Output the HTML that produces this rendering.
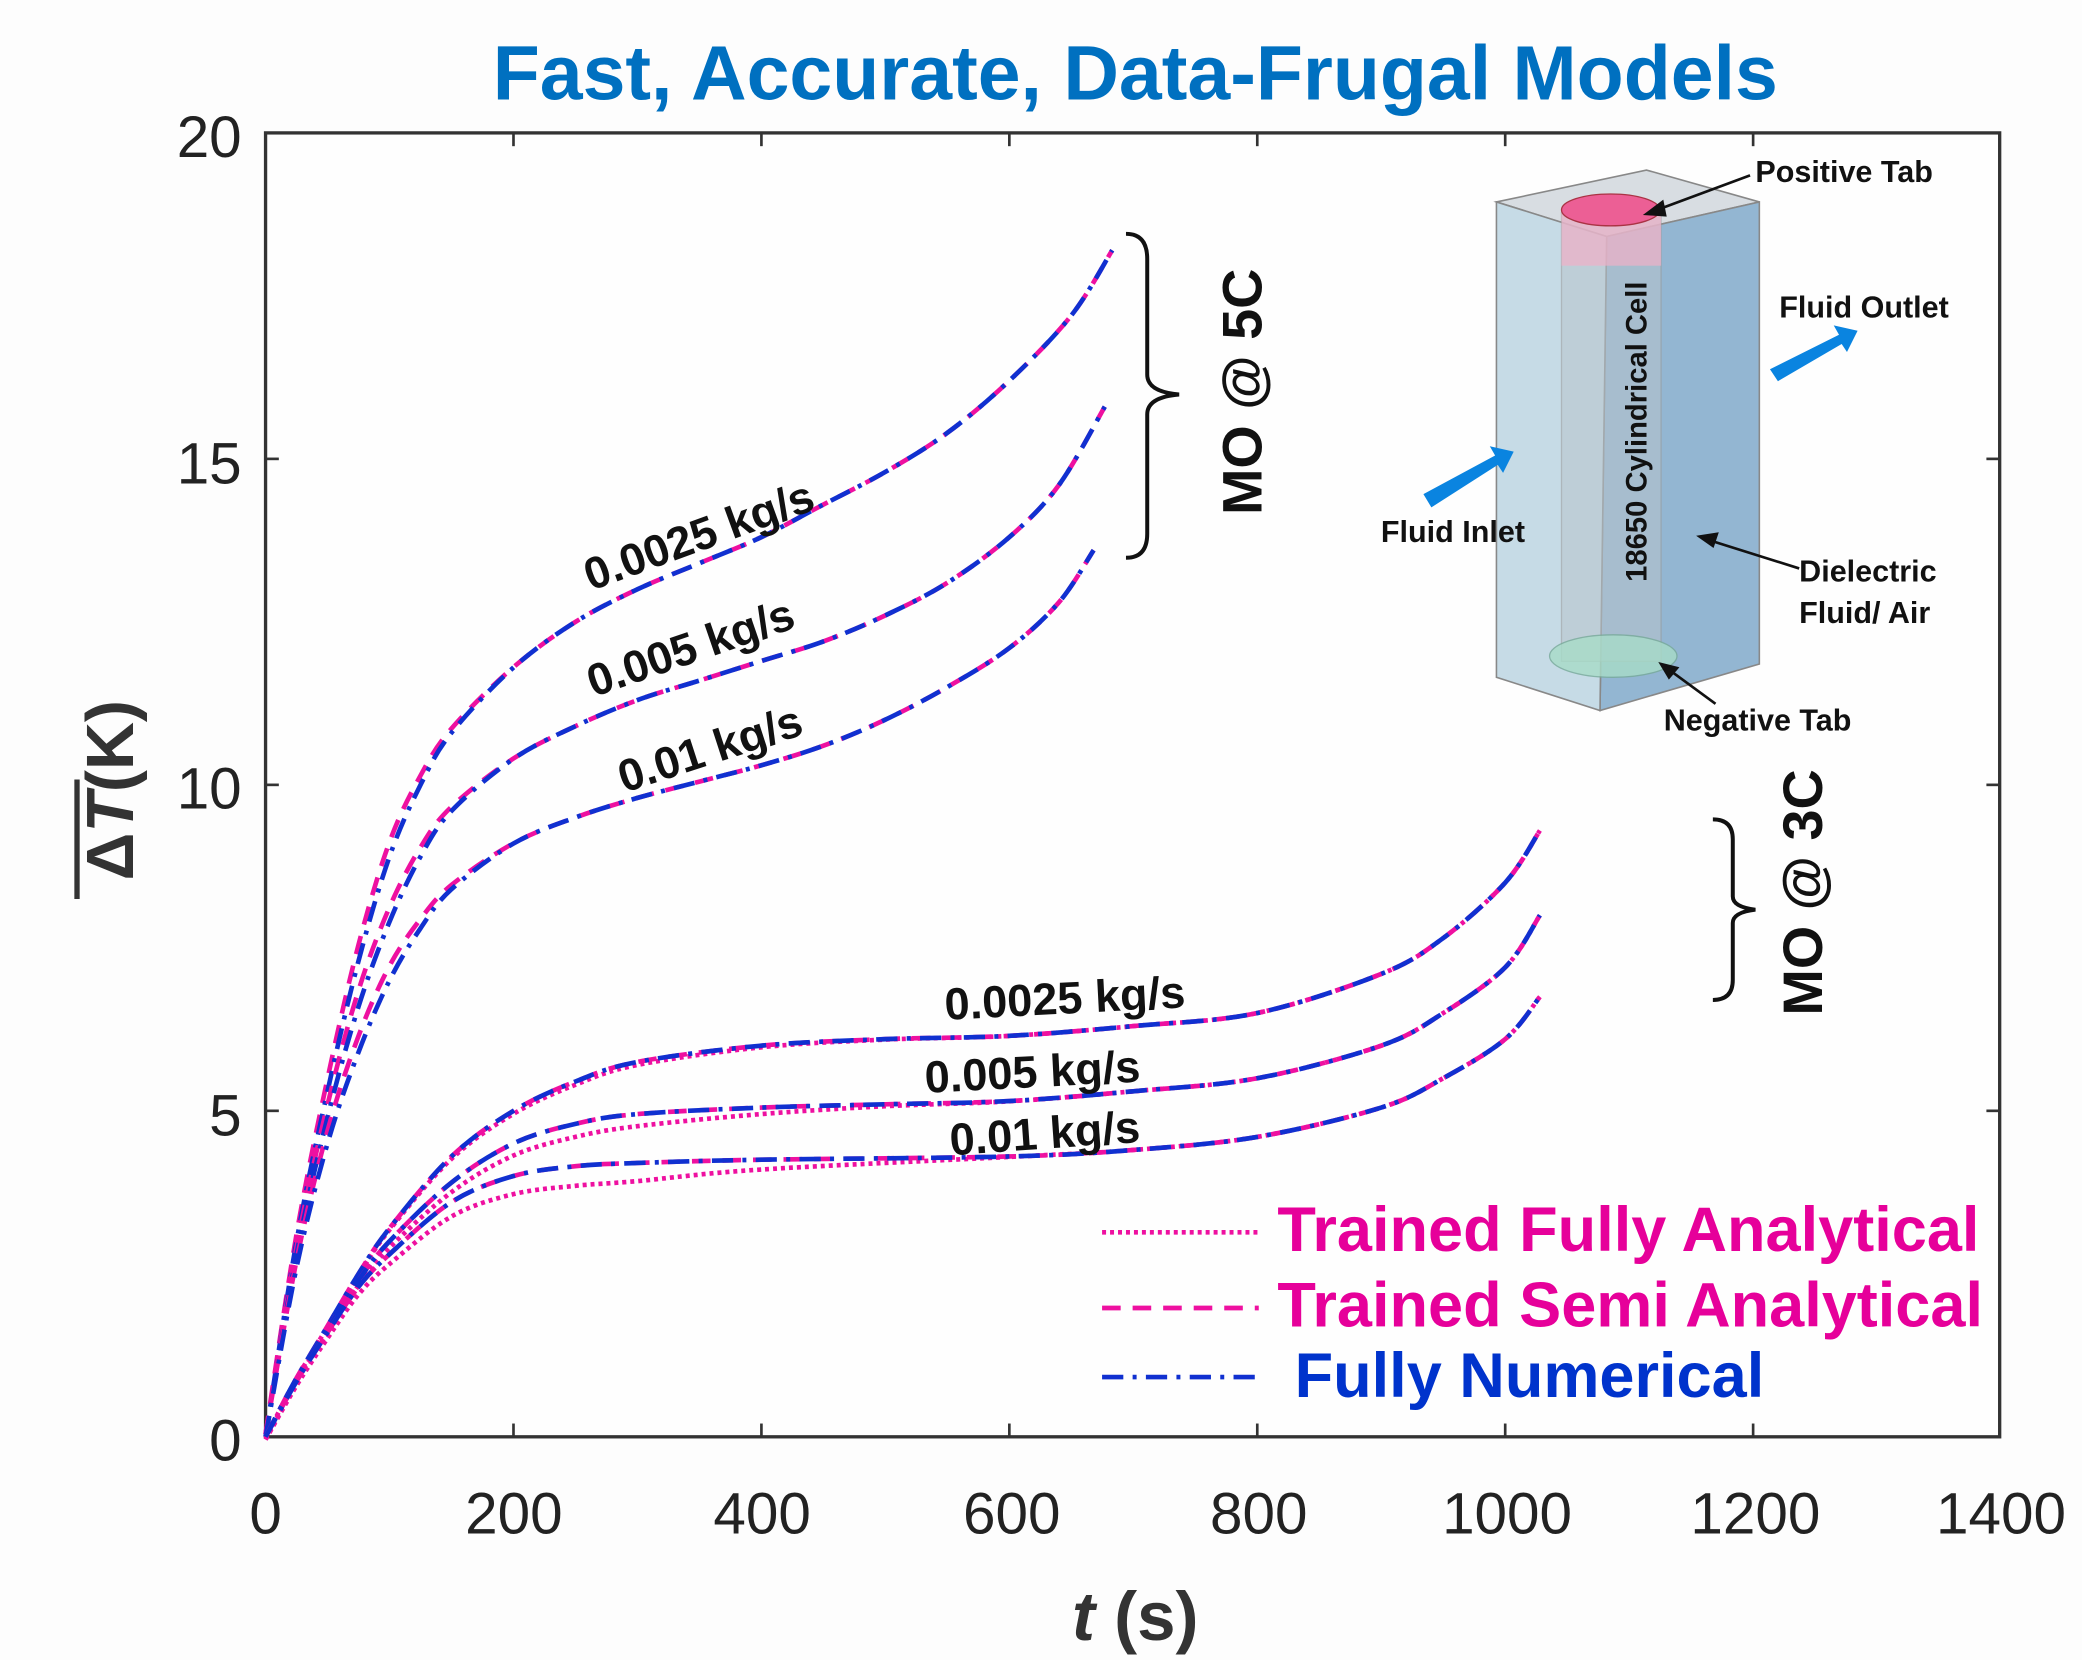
<!DOCTYPE html>
<html><head><meta charset="utf-8"><style>
html,body{margin:0;padding:0;background:#fdfdfd;}
svg{display:block;}
text{font-family:"Liberation Sans",Arial,sans-serif;}
</style></head><body>
<svg id="s" width="2082" height="1660" viewBox="0 0 1568 1250" xmlns="http://www.w3.org/2000/svg">
<rect width="1568" height="1250" fill="#fdfdfd"/>
<text x="855" y="75" text-anchor="middle" font-size="58" font-weight="bold" fill="#0070c0">Fast, Accurate, Data-Frugal Models</text>
<rect x="200" y="100" width="1306" height="982" fill="#fefefe" stroke="#333" stroke-width="2.5"/>
<g id="ticks" stroke="#333" stroke-width="2"></g>
<g font-size="44" fill="#222" text-anchor="end">
<text x="182" y="1100">0</text><text x="182" y="855">5</text><text x="182" y="609">10</text><text x="182" y="364">15</text><text x="182" y="118">20</text>
</g>
<g font-size="44" fill="#222" text-anchor="middle">
<text x="200" y="1155">0</text><text x="387" y="1155">200</text><text x="574" y="1155">400</text><text x="762" y="1155">600</text><text x="948" y="1155">800</text><text x="1135" y="1155">1000</text><text x="1322" y="1155">1200</text><text x="1507" y="1155">1400</text>
</g>
<text x="855" y="1235" text-anchor="middle" font-size="52" font-weight="bold" fill="#333"><tspan font-style="italic">t</tspan> (s)</text>
<g transform="translate(100,595) rotate(-90)">
<text x="0" y="0" text-anchor="middle" font-size="50" font-weight="bold" fill="#333">Δ<tspan font-style="italic">T</tspan>(K)</text>
<line x1="-82" y1="-42" x2="8" y2="-42" stroke="#333" stroke-width="4"/>
</g>
<g id="curves" fill="none"></g>
<g font-size="34" font-weight="bold" fill="#111">
<text transform="translate(445,445) rotate(-20)">0.0025 kg/s</text>
<text transform="translate(447,525) rotate(-19)">0.005 kg/s</text>
<text transform="translate(470,597) rotate(-18)">0.01 kg/s</text>
<text transform="translate(712,768) rotate(-3)">0.0025 kg/s</text>
<text transform="translate(697,823) rotate(-3)">0.005 kg/s</text>
<text transform="translate(716,870) rotate(-4)">0.01 kg/s</text>
</g>
<path d="M848,176 Q864,176 864,195 L864,282 Q864,295 888,297 Q864,299 864,312 L864,402 Q864,420 848,420" fill="none" stroke="#111" stroke-width="3"/>
<text transform="translate(950,295) rotate(-90)" text-anchor="middle" font-size="42" font-weight="bold" fill="#111">MO @ 5C</text>
<path d="M1290,617 Q1305,617 1305,632 L1305,675 Q1305,683 1322,685 Q1305,687 1305,695 L1305,738 Q1305,753 1290,753" fill="none" stroke="#111" stroke-width="3"/>
<text transform="translate(1372,672) rotate(-90)" text-anchor="middle" font-size="42" font-weight="bold" fill="#111">MO @ 3C</text>
<line x1="830" y1="928" x2="948" y2="928" stroke="#ee10a0" stroke-width="3.5" stroke-dasharray="3,3"/>
<line x1="830" y1="985" x2="948" y2="985" stroke="#ee10a0" stroke-width="3.5" stroke-dasharray="14,9"/>
<line x1="830" y1="1037" x2="948" y2="1037" stroke="#1030d0" stroke-width="3.5" stroke-dasharray="16,7,3,7"/>
<g font-size="47.5" font-weight="bold">
<text x="962" y="942" fill="#e6009a">Trained Fully Analytical</text>
<text x="962" y="999" fill="#e6009a">Trained Semi Analytical</text>
<text x="975" y="1052" fill="#0033cc">Fully Numerical</text>
</g>
<g>
<polygon points="1127,152 1240,128 1325,152 1210,178" fill="#d8dde2" stroke="#888" stroke-width="1.2"/>
<polygon points="1210,178 1325,152 1325,500 1205,535" fill="#93b6d2" stroke="#888" stroke-width="1.2"/>
<polygon points="1127,152 1210,178 1205,535 1127,510" fill="#c6dbe6" stroke="#888" stroke-width="1.2"/>
<rect x="1176" y="160" width="75" height="338" fill="#b8c4cc" opacity="0.55" stroke="#999"/>
<rect x="1176" y="160" width="75" height="40" fill="#f0b0c8" opacity="0.7"/>
<ellipse cx="1213" cy="158" rx="37" ry="12" fill="#ec5f95" stroke="#a34"/>
<ellipse cx="1215" cy="494" rx="48" ry="16" fill="#a8dcc8" opacity="0.8" stroke="#7a9"/>
<text transform="translate(1240,325) rotate(-90)" text-anchor="middle" font-size="22" font-weight="bold" fill="#111">18650 Cylindrical Cell</text>
<polygon points="1072,372 1126,343 1122,336 1140,340 1132,356 1128,350 1078,382" fill="#0a84e0"/>
<polygon points="1333,278 1385,252 1381,245 1399,249 1391,265 1387,259 1339,287" fill="#0a84e0"/>
<g stroke="#111" stroke-width="2" fill="#111">
<line x1="1318" y1="132" x2="1248" y2="158"/><polygon points="1240,161 1252,152 1254,162"/>
<line x1="1355" y1="428" x2="1288" y2="407"/><polygon points="1280,404 1293,402 1290,411"/>
<line x1="1292" y1="530" x2="1258" y2="505"/><polygon points="1251,500 1263,503 1257,510"/>
</g>
<g font-size="23" font-weight="bold" fill="#111">
<text x="1322" y="137">Positive Tab</text>
<text x="1340" y="239">Fluid Outlet</text>
<text x="1040" y="408">Fluid Inlet</text>
<text x="1355" y="438">Dielectric</text>
<text x="1355" y="469">Fluid/ Air</text>
<text x="1253" y="550">Negative Tab</text>
</g>
</g>
</svg>
<script>
var NS="http://www.w3.org/2000/svg";
function X(t){return 200+t*0.9336;}function Y(v){return 1082-v*49.1;}
var tk=document.getElementById("ticks");
function ln(a,b,c,d){var l=document.createElementNS(NS,"line");l.setAttribute("x1",a);l.setAttribute("y1",b);l.setAttribute("x2",c);l.setAttribute("y2",d);tk.appendChild(l);}
for(var t=200;t<1400;t+=200){ln(X(t),1082,X(t),1072);ln(X(t),100,X(t),110);}
for(var v=5;v<20;v+=5){ln(200,Y(v),210,Y(v));ln(1506,Y(v),1496,Y(v));}
function path(pts){
 var P=pts.map(function(p){return [X(p[0]),Y(p[1])];});
 var d="M"+P[0][0]+","+P[0][1];
 for(var i=0;i<P.length-1;i++){
  var p0=P[i-1]||P[i],p1=P[i],p2=P[i+1],p3=P[i+2]||P[i+1];
  var c1=[p1[0]+(p2[0]-p0[0])/6,p1[1]+(p2[1]-p0[1])/6],c2=[p2[0]-(p3[0]-p1[0])/6,p2[1]-(p3[1]-p1[1])/6];
  d+=" C"+c1[0]+","+c1[1]+" "+c2[0]+","+c2[1]+" "+p2[0]+","+p2[1];
 }
 return d;
}
var g=document.getElementById("curves");
function draw(pts,col,dash){var p=document.createElementNS(NS,"path");p.setAttribute("d",path(pts));p.setAttribute("stroke",col);p.setAttribute("stroke-width","3.5");p.setAttribute("stroke-dasharray",dash);g.appendChild(p);}
function shift(pts,f){return pts.map(function(p){return [p[0],p[1]+f(p[0])];});}
var c5=[
[[0,0],[25,3.0],[50,5.3],[75,7.3],[100,8.9],[125,10.0],[150,10.8],[200,11.8],[250,12.5],[300,13.0],[350,13.4],[400,13.8],[450,14.3],[500,14.8],[550,15.4],[600,16.2],[650,17.2],[683,18.2]],
[[0,0],[25,2.8],[50,4.9],[75,6.6],[100,7.9],[125,8.9],[150,9.6],[200,10.4],[250,10.9],[300,11.3],[350,11.6],[400,11.9],[450,12.2],[500,12.6],[550,13.1],[600,13.8],[640,14.6],[677,15.8]],
[[0,0],[25,2.6],[50,4.5],[75,5.9],[100,7.0],[125,7.8],[150,8.4],[200,9.1],[250,9.5],[300,9.8],[350,10.05],[400,10.3],[450,10.6],[500,11.0],[550,11.5],[600,12.1],[640,12.8],[668,13.6]]];
var c3=[
[[0,0],[25,0.9],[50,1.7],[75,2.5],[100,3.2],[150,4.3],[200,5.0],[250,5.45],[300,5.75],[400,6.0],[500,6.1],[600,6.15],[700,6.3],[800,6.5],[900,7.1],[950,7.65],[1000,8.5],[1028,9.3]],
[[0,0],[25,0.9],[50,1.65],[75,2.4],[100,3.0],[150,3.9],[200,4.5],[250,4.8],[300,4.95],[400,5.05],[500,5.1],[600,5.15],[700,5.3],[800,5.5],[900,6.0],[950,6.5],[1000,7.2],[1028,8.0]],
[[0,0],[25,0.85],[50,1.6],[75,2.3],[100,2.8],[150,3.6],[200,4.0],[250,4.15],[300,4.2],[400,4.25],[600,4.3],[700,4.4],[800,4.6],[900,5.05],[950,5.5],[1000,6.1],[1028,6.75]]];
function bump(c,w,a){return function(t){return a*Math.exp(-Math.pow((t-c)/w,2));};}
c5.forEach(function(c){draw(shift(c,bump(80,60,0.25)),"#ee10a0","14,9");draw(c,"#1030d0","16,7,3,7");});
c3.forEach(function(c,i){var off=[0.05,0.2,0.3][i];draw(shift(c,bump(250,180,-off)),"#ee10a0","3,3");draw(c,"#ee10a0","14,9");draw(c,"#1030d0","16,7,3,7");});
</script>
</body></html>
